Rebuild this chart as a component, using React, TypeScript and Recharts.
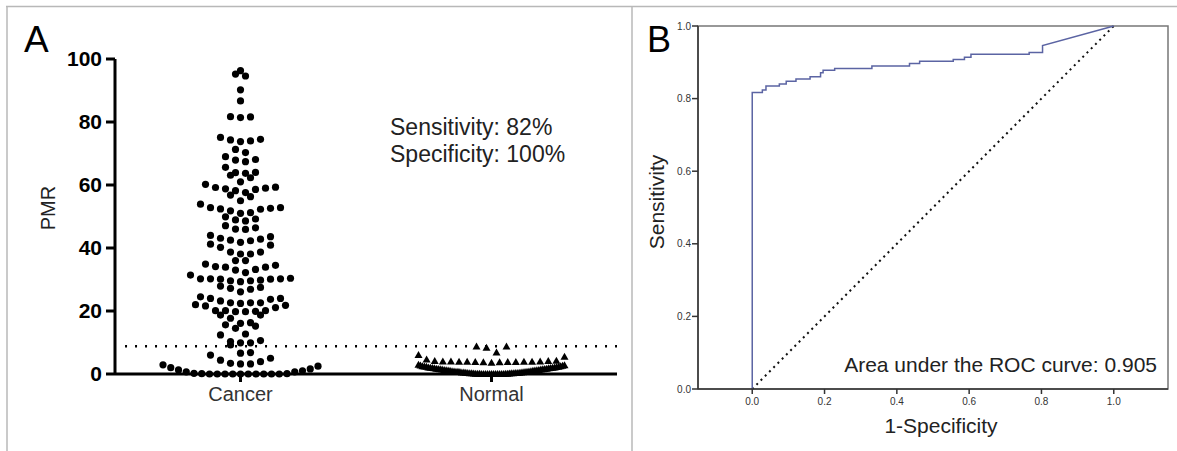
import React from 'react';
import {
  ScatterChart,
  Scatter,
  XAxis,
  YAxis,
  ReferenceLine,
  ComposedChart,
  Line,
  ReferenceArea,
} from 'recharts';

// ---- panel A: PMR by group ----
const groups = ['Cancer', 'Normal'];
const pmrTicks = [0, 20, 40, 60, 80, 100];
const cutoff = 8.8;

const cancerPmr = [
  96.3, 95.2, 94.6, 90.2, 86.7, 81.7, 81.6, 81.4,
  75.1, 74.5, 74.3, 74.0, 73.8, 71.3, 70.3, 69.0, 68.1, 67.9, 67.4, 65.6,
  64.0, 63.9, 63.7, 63.1, 62.3, 61.0, 60.2, 59.3, 59.2, 59.0, 58.8, 58.6, 58.2, 57.6,
  56.8, 56.3, 55.0, 53.9, 52.8, 52.8, 52.6, 52.4, 52.3, 51.8, 51.2, 51.0,
  49.9, 49.2, 48.9, 48.6, 47.1, 46.4, 46.0, 45.9, 44.0, 43.6, 43.1, 42.8, 42.5, 42.3, 41.8, 41.2, 40.9, 40.2,
  38.7, 38.7, 38.1, 38.1, 36.0, 36.0, 34.9, 34.5, 34.1, 33.9, 33.9, 33.2, 33.0, 32.2, 31.4,
  30.4, 30.2, 30.2, 30.2, 30.1, 30.1, 29.8, 29.6, 29.6, 29.3,
  27.9, 27.5, 27.2, 26.9, 26.1, 24.5, 24.0, 24.0, 23.7, 23.2,
  22.6, 22.6, 22.6, 22.4, 22.0, 21.8, 21.6, 21.1, 20.1, 20.1, 20.1, 19.9, 19.8, 19.8,
  18.7, 18.7, 17.7, 16.3, 16.1, 15.6, 15.2, 14.5, 12.7, 12.4,
  10.6, 10.3, 9.9, 9.9, 9.2, 6.8, 6.6, 6.0, 5.0, 4.4, 3.9, 3.4, 3.2, 3.2,
  2.9, 2.5, 2.0, 1.6, 1.3, 1.0, 0.7, 0.7, 0.2, 0.1, 0.1,
  0, 0, 0, 0, 0, 0, 0, 0, 0, 0,
];

const normalPmr = [
  8.7, 8.7, 8.3, 6.8,
  6.0, 5.5, 4.6, 4.2, 4.1, 4.1, 4.0, 4.0, 4.0, 3.9, 3.9, 3.9, 3.9, 3.8, 3.8, 3.8, 3.7, 3.7, 3.6,
  2.9, 2.8, 2.7, 2.6, 2.5, 2.5, 2.4, 2.3, 2.3, 2.2, 2.1, 2.1, 2.0, 2.0, 1.9, 1.9,
  1.8, 1.8, 1.7, 1.7, 1.6, 1.6, 1.5, 1.5, 1.4, 1.4, 1.3, 1.3, 1.2, 1.2, 1.1, 1.1,
  1.0, 1.0, 0.9, 0.9, 0.8, 0.8, 0.75, 0.7, 0.7, 0.6, 0.6, 0.55, 0.5, 0.5, 0.45,
  0.4, 0.4, 0.35, 0.3, 0.3, 0.25, 0.25, 0.2, 0.2, 0.15, 0.15, 0.1, 0.1, 0.1, 0.05, 0.05,
  0, 0, 0, 0, 0, 0, 0, 0, 0, 0, 0, 0,
];

// ---- panel B: ROC ----
const rocFpr = [
  0, 0, 0.028, 0.028, 0.038, 0.038, 0.075, 0.075, 0.094, 0.094, 0.121, 0.121,
  0.16, 0.16, 0.189, 0.189, 0.196, 0.196, 0.228, 0.228, 0.331, 0.331, 0.435, 0.435,
  0.463, 0.463, 0.556, 0.556, 0.587, 0.587, 0.605, 0.605, 0.766, 0.766, 0.803, 0.803, 1,
];
const rocTpr = [
  0, 0.817, 0.817, 0.824, 0.824, 0.835, 0.835, 0.84, 0.84, 0.848, 0.848, 0.854,
  0.854, 0.86, 0.86, 0.871, 0.871, 0.878, 0.878, 0.883, 0.883, 0.89, 0.89, 0.897,
  0.897, 0.903, 0.903, 0.908, 0.908, 0.914, 0.914, 0.922, 0.922, 0.927, 0.927, 0.946, 1,
];
const rocTicks = [0, 0.2, 0.4, 0.6, 0.8, 1.0];
const auc = 0.905;

const FONT = '"Liberation Sans", Arial, Helvetica, sans-serif';

// plot size of panel A in px, used to turn the swarm spacing into axis units
const A_PLOT_W = 502;
const A_PLOT_H = 315;

// GraphPad-like scatter: bin by symbol height, line each bin up centre-out
function swarm(values: number[], group: number, binPx: number, stepPx: number, maxSpanPx: number) {
  const pxPerX = A_PLOT_W / groups.length;
  const pxPerY = A_PLOT_H / 100;
  const bins = new Map<number, number[]>();
  values.forEach((v) => {
    const k = Math.floor((v * pxPerY) / binPx);
    if (!bins.has(k)) bins.set(k, []);
    bins.get(k)!.push(v);
  });
  const pts: { x: number; y: number }[] = [];
  bins.forEach((list) => {
    list.sort((a, b) => a - b);
    const n = list.length;
    const gap = n > 1 ? Math.min(stepPx, maxSpanPx / (n - 1)) : 0;
    list.forEach((v, i) => {
      let slot: number;
      if (n % 2 === 1) slot = i === 0 ? 0 : (i % 2 === 1 ? 1 : -1) * Math.ceil(i / 2);
      else slot = (i % 2 === 0 ? 1 : -1) * (Math.floor(i / 2) + 0.5);
      pts.push({ x: group + 0.5 + (slot * gap) / pxPerX, y: v });
    });
  });
  return pts;
}

const cancerPts = swarm(cancerPmr, 0, 10, 10, 155);
const normalPts = swarm(normalPmr, 1, 10, 10, 146);

const rocData = rocFpr.map((x, i) => ({ x, y: rocTpr[i] }));
const chanceData = [{ x: 0, y: 0 }, { x: 1, y: 1 }];

const Dot = (props: any) => <circle cx={props.cx} cy={props.cy} r={3.6} fill="#000" />;
const Tri = (props: any) => (
  <polygon
    points={`${props.cx},${props.cy - 4} ${props.cx + 4},${props.cy + 3} ${props.cx - 4},${props.cy + 3}`}
    fill="#000"
  />
);

export default function App() {
  return (
    <div style={{ position: 'absolute', left: 0, top: 0, width: 1177, height: 451, background: '#fff', fontFamily: FONT }}>
      <div style={{ position: 'absolute', left: 0, top: 0 }}>
        <ScatterChart width={632} height={451} margin={{ top: 59, right: 15, bottom: 37, left: 55 }}>
          <XAxis
            dataKey="x"
            type="number"
            domain={[0, 2]}
            ticks={[0.5, 1.5]}
            interval={0}
            tickFormatter={(v) => groups[Math.floor(v)]}
            height={40}
            tickSize={8}
            tickMargin={5}
            axisLine={{ stroke: '#000', strokeWidth: 3 }}
            tickLine={{ stroke: '#000', strokeWidth: 3 }}
            tick={{ fill: '#333', fontSize: 20 }}
          />
          <YAxis
            dataKey="y"
            type="number"
            domain={[0, 100]}
            ticks={pmrTicks}
            interval={0}
            width={60}
            tickSize={9}
            tickMargin={4}
            axisLine={{ stroke: '#000', strokeWidth: 3 }}
            tickLine={{ stroke: '#000', strokeWidth: 3 }}
            tick={{ fill: '#000', fontSize: 21, fontWeight: 'bold' }}
          />
          <ReferenceLine
            segment={[{ x: 0.04, y: cutoff }, { x: 2, y: cutoff }]}
            stroke="#000"
            strokeWidth={2.5}
            strokeDasharray="2 8"
          />
          <Scatter name="Cancer" data={cancerPts} shape={Dot} isAnimationActive={false} />
          <Scatter name="Normal" data={normalPts} shape={Tri} isAnimationActive={false} />
        </ScatterChart>
      </div>

      <div style={{ position: 'absolute', left: 640, top: 0 }}>
        <ComposedChart width={537} height={451} margin={{ top: 26, right: 9, bottom: 32, left: 18 }}>
          <XAxis
            dataKey="x"
            type="number"
            domain={[-0.15, 1.15]}
            ticks={rocTicks}
            interval={0}
            tickFormatter={(v) => v.toFixed(1)}
            height={30}
            tickSize={5}
            tickMargin={4}
            axisLine={{ stroke: '#333', strokeWidth: 1.5 }}
            tickLine={{ stroke: '#333', strokeWidth: 1.5 }}
            tick={{ fill: '#333', fontSize: 10 }}
          />
          <YAxis
            dataKey="y"
            type="number"
            domain={[0, 1]}
            ticks={rocTicks}
            interval={0}
            tickFormatter={(v) => v.toFixed(1)}
            width={40}
            tickSize={6}
            tickMargin={1}
            axisLine={{ stroke: '#333', strokeWidth: 1.5 }}
            tickLine={{ stroke: '#333', strokeWidth: 1.5 }}
            tick={{ fill: '#333', fontSize: 10 }}
          />
          <ReferenceArea x1={-0.15} x2={1.15} y1={0} y2={1} fill="none" stroke="#777" strokeWidth={1.5} />
          <Line
            data={chanceData}
            dataKey="y"
            type="linear"
            stroke="#111"
            strokeWidth={2}
            strokeDasharray="2 4"
            dot={false}
            isAnimationActive={false}
          />
          <Line
            data={rocData}
            dataKey="y"
            type="linear"
            stroke="#5b64a3"
            strokeWidth={1.5}
            dot={false}
            isAnimationActive={false}
          />
        </ComposedChart>
      </div>

      <svg width={1177} height={451} style={{ position: 'absolute', left: 0, top: 0, pointerEvents: 'none' }}>
        <line x1={6} y1={6.5} x2={1177} y2={6.5} stroke="#b8b8b8" strokeWidth={1.5} />
        <line x1={7} y1={6} x2={7} y2={451} stroke="#b8b8b8" strokeWidth={1.5} />
        <line x1={632} y1={6} x2={632} y2={451} stroke="#b8b8b8" strokeWidth={1.5} />

        <text x={24} y={52} fontSize={37} fill="#000">A</text>
        <text x={55} y={208} fontSize={20} fill="#222" textAnchor="middle" transform="rotate(-90 55 208)">PMR</text>
        <text x={390} y={135} fontSize={23} fill="#222">Sensitivity: 82%</text>
        <text x={390} y={162} fontSize={23} fill="#222">Specificity: 100%</text>

        <text x={647} y={52} fontSize={36} fill="#000">B</text>
        <text x={664} y={202} fontSize={21} fill="#222" textAnchor="middle" transform="rotate(-90 664 202)">Sensitivity</text>
        <text x={941} y={433} fontSize={21} fill="#222" textAnchor="middle">1-Specificity</text>
        <text x={1157} y={372} fontSize={21} fill="#222" textAnchor="end">{`Area under the ROC curve: ${auc}`}</text>
      </svg>
    </div>
  );
}
